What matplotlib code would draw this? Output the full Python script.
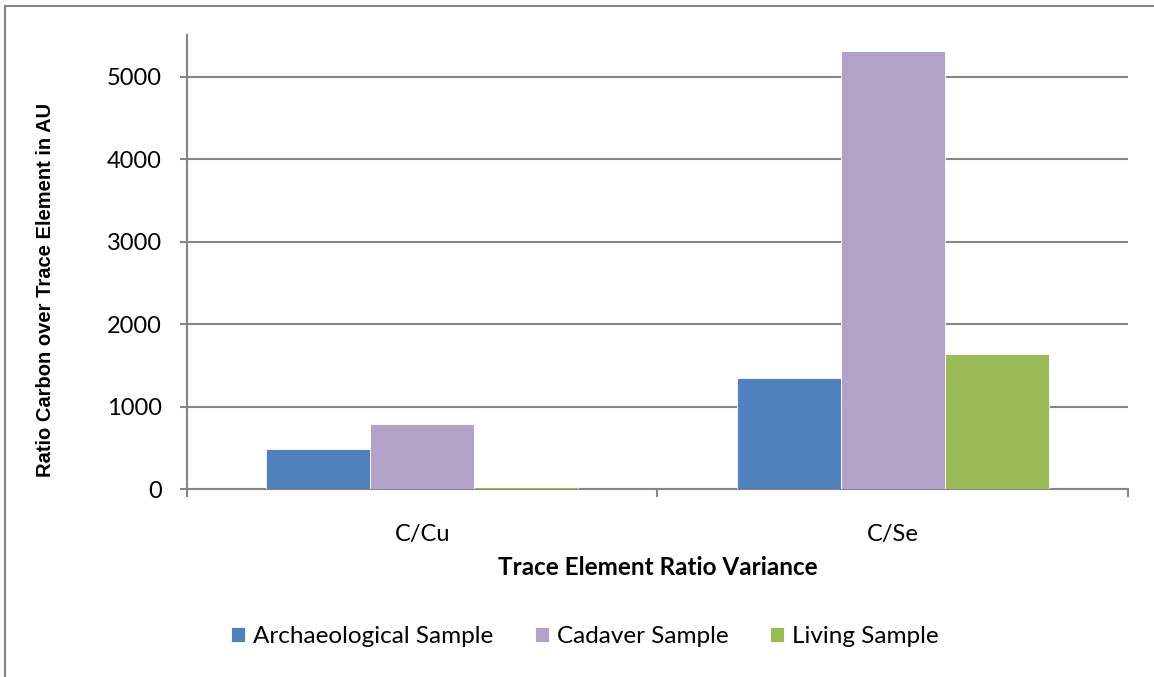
import matplotlib.pyplot as plt
import numpy as np
from matplotlib.lines import Line2D

categories = ['C/Cu', 'C/Se']
archaeological = [485, 1355]
cadaver = [790, 5320]
living = [25, 1645]
series_names = ['Archaeological Sample', 'Cadaver Sample', 'Living Sample']
colors = ['#4f81bd', '#b2a2c7', '#9bbb59']

fig = plt.figure(figsize=(11.54, 6.77), dpi=100)
ax = fig.add_axes([0.162, 0.2772, 0.8155, 0.6708])

x = np.arange(len(categories))
w = 0.221
for i, (vals, name, c) in enumerate(zip([archaeological, cadaver, living], series_names, colors)):
    ax.bar(x + (i - 1) * w, vals, width=w, color=c, label=name,
           edgecolor='white', linewidth=0.6, zorder=3)

ax.set_xlim(-0.5, 1.5)
ax.set_ylim(0, 5506)
ax.set_yticks(range(0, 6000, 1000))
ax.grid(axis='y', color='#868686', linewidth=1.5, zorder=0)

for s in ['top', 'right']:
    ax.spines[s].set_visible(False)
for s in ['left', 'bottom']:
    ax.spines[s].set_color('#868686')
    ax.spines[s].set_linewidth(1.5)

ax.tick_params(axis='y', length=5, width=1.5, color='#868686', labelsize=17, pad=13)
ax.set_xticks([-0.5, 0.5, 1.5])
ax.set_xticklabels([])
ax.set_xticks(x, minor=True)
ax.set_xticklabels(categories, minor=True)
ax.tick_params(axis='x', which='major', length=6, width=1.5, color='#868686', direction='out')
ax.tick_params(axis='x', which='minor', length=0, labelsize=17, pad=25)
for lab in ax.get_yticklabels() + ax.get_xticklabels(minor=True):
    lab.set_fontfamily('Lato')

ax.set_xlabel('Trace Element Ratio Variance', fontfamily='Lato', fontweight='bold',
              fontsize=17.5, labelpad=8)
ax.set_ylabel('Ratio Carbon over Trace Element in AU', fontfamily='Liberation Sans',
              fontweight='bold', fontsize=14.5)
ax.yaxis.set_label_coords(-0.14, 0.438)

ax.legend(loc='center', bbox_to_anchor=(0.423, -0.325), ncol=3, frameon=False,
          prop={'family': 'Lato', 'size': 17.5}, handlelength=0.58, handleheight=0.58,
          handletextpad=0.33, columnspacing=1.7)

# outer chart border (only top and left visible)
fig.add_artist(Line2D([0.004, 0.004], [0, 0.991], transform=fig.transFigure,
                      color='#868686', linewidth=1.5))
fig.add_artist(Line2D([0.004, 1.0], [0.991, 0.991], transform=fig.transFigure,
                      color='#868686', linewidth=1.5))

plt.savefig('out.png', dpi=100)
